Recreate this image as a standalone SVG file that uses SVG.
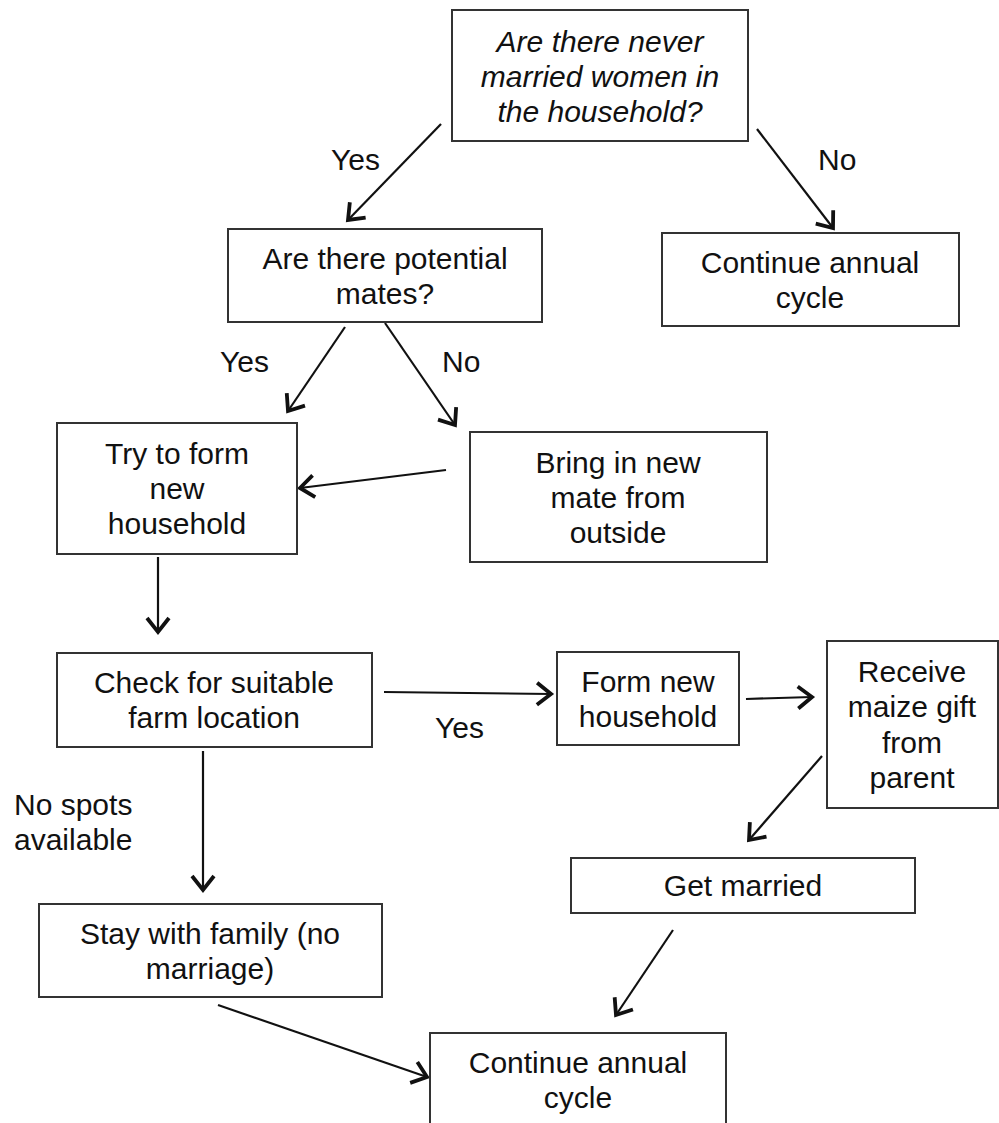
<svg xmlns="http://www.w3.org/2000/svg" width="999" height="1123" viewBox="0 0 999 1123">
<style>
.box{fill:#fff;stroke:#333;stroke-width:2}
.t{font-family:"Liberation Sans",Arial,sans-serif;font-size:30px;fill:#111;text-anchor:middle}
.i{font-style:italic}
.lbl{font-family:"Liberation Sans",Arial,sans-serif;font-size:30px;fill:#111}
.c{fill:none;stroke:#111;stroke-width:2.2;marker-end:url(#arr)}
</style>
<defs>
<marker id="arr" markerUnits="userSpaceOnUse" markerWidth="40" markerHeight="40" viewBox="-20 -20 40 40" refX="0" refY="0" orient="auto">
<path d="M-14,-11 L0,0 L-14,11" fill="none" stroke="#111" stroke-width="3.8"/>
</marker>
</defs>
<rect width="999" height="1123" fill="#fff"/>
<g id="connectors">
<line class="c" x1="441" y1="124" x2="348" y2="220"/>
<line class="c" x1="757" y1="129" x2="833" y2="228"/>
<line class="c" x1="345" y1="327" x2="288" y2="411"/>
<line class="c" x1="385" y1="323" x2="455" y2="425"/>
<line class="c" x1="446" y1="470" x2="300" y2="488"/>
<line class="c" x1="158" y1="557" x2="158" y2="632"/>
<line class="c" x1="384" y1="692" x2="551" y2="694"/>
<line class="c" x1="746" y1="699" x2="812" y2="697"/>
<line class="c" x1="822" y1="756" x2="749" y2="840"/>
<line class="c" x1="203" y1="751" x2="203" y2="890"/>
<line class="c" x1="218" y1="1005" x2="427" y2="1077"/>
<line class="c" x1="673" y1="930" x2="616" y2="1015"/>
<text class="lbl" x="331" y="170">Yes</text>
<text class="lbl" x="818" y="170">No</text>
<text class="lbl" x="220" y="372">Yes</text>
<text class="lbl" x="442" y="372">No</text>
<text class="lbl" x="435" y="738">Yes</text>
<text class="lbl" x="14" y="815">No spots</text>
<text class="lbl" x="14" y="850">available</text>
</g>
<g id="n1"><rect class="box" x="452" y="10" width="296" height="131"/>
<text class="t i" x="600" y="52">Are there never</text><text class="t i" x="600" y="87">married women in</text><text class="t i" x="600" y="122">the household?</text></g>
<g id="n2"><rect class="box" x="228" y="229" width="314" height="93"/>
<text class="t" x="385" y="269">Are there potential</text><text class="t" x="385" y="304">mates?</text></g>
<g id="n3"><rect class="box" x="662" y="233" width="297" height="93"/>
<text class="t" x="810" y="273">Continue annual</text><text class="t" x="810" y="308">cycle</text></g>
<g id="n4"><rect class="box" x="57" y="423" width="240" height="131"/>
<text class="t" x="177" y="464">Try to form</text><text class="t" x="177" y="499">new</text><text class="t" x="177" y="534">household</text></g>
<g id="n5"><rect class="box" x="470" y="432" width="297" height="130"/>
<text class="t" x="618" y="473">Bring in new</text><text class="t" x="618" y="508">mate from</text><text class="t" x="618" y="543">outside</text></g>
<g id="n6"><rect class="box" x="57" y="653" width="315" height="94"/>
<text class="t" x="214" y="693">Check for suitable</text><text class="t" x="214" y="728">farm location</text></g>
<g id="n7"><rect class="box" x="557" y="652" width="182" height="93"/>
<text class="t" x="648" y="692">Form new</text><text class="t" x="648" y="727">household</text></g>
<g id="n8"><rect class="box" x="827" y="641" width="171" height="167"/>
<text class="t" x="912" y="682">Receive</text><text class="t" x="912" y="717">maize gift</text><text class="t" x="912" y="753">from</text><text class="t" x="912" y="788">parent</text></g>
<g id="n9"><rect class="box" x="571" y="858" width="344" height="55"/>
<text class="t" x="743" y="896">Get married</text></g>
<g id="n10"><rect class="box" x="39" y="904" width="343" height="93"/>
<text class="t" x="210" y="944">Stay with family (no</text><text class="t" x="210" y="979">marriage)</text></g>
<g id="n11"><rect class="box" x="430" y="1033" width="296" height="110"/>
<text class="t" x="578" y="1073">Continue annual</text><text class="t" x="578" y="1108">cycle</text></g>
</svg>
